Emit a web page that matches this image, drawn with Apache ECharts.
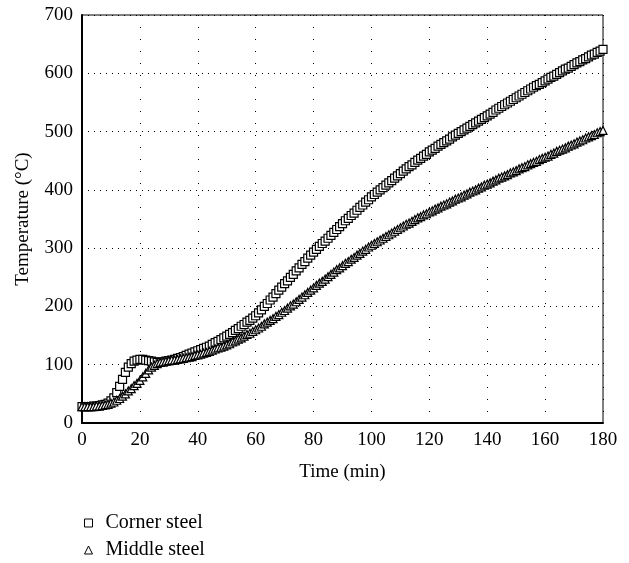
<!DOCTYPE html>
<html>
<head>
<meta charset="utf-8">
<script src="https://cdn.jsdelivr.net/npm/echarts@6/dist/echarts.min.js"></script>
<style>html,body{margin:0;padding:0;background:#fff}#c{width:629px;height:563px}</style>
</head>
<body>
<div id="c"></div>
<script>
var times = [0,1,2,3,4,5,6,7,8,9,10,11,12,13,14,15,16,17,18,19,20,21,22,23,24,25,26,27,28,29,30,
31,32,33,34,35,36,37,38,39,40,41,42,43,44,45,46,47,48,49,50,51,52,53,54,55,56,57,58,59,60,
61,62,63,64,65,66,67,68,69,70,71,72,73,74,75,76,77,78,79,80,
81,82,83,84,85,86,87,88,89,90,91,92,93,94,95,96,97,98,99,100,
101,102,103,104,105,106,107,108,109,110,111,112,113,114,115,116,117,118,119,120,
121,122,123,124,125,126,127,128,129,130,131,132,133,134,135,136,137,138,139,140,
141,142,143,144,145,146,147,148,149,150,151,152,153,154,155,156,157,158,159,160,
161,162,163,164,165,166,167,168,169,170,171,172,173,174,175,176,177,178,179,180];

var cornerSteel = [28,28,28,28,29,29,30,31,32,34,38,43,52,63,75,87,96,102,106,108,109,109,108,107,106,105,104,104,105,106,107,
108,109,111,112,114,116,118,120,122,124,126,128,130,132,135,138,140,143,146,149,152,155,159,162,166,169,173,176,180,184,
189,194,200,205,211,216,222,228,233,239,244,250,255,261,266,272,277,283,288,293,
298,303,308,312,317,322,327,332,337,342,347,351,356,360,365,370,374,379,383,388,
392,396,400,404,408,412,416,420,424,428,432,436,440,443,447,451,454,458,461,465,
468,471,475,478,481,484,487,491,494,497,500,503,506,509,512,515,518,521,524,527,
530,533,537,540,543,546,549,552,555,558,561,564,567,570,573,576,579,581,584,587,
590,593,595,598,601,604,607,609,612,615,618,620,623,625,628,631,633,636,638,641];

var middleSteel = [28,28,28,28,28,29,29,30,31,32,34,36,39,42,46,50,55,59,64,68,73,79,85,91,96,99,102,104,105,106,107,
108,108,109,110,111,112,113,114,116,117,118,120,121,123,125,127,129,130,132,134,136,139,141,144,146,149,152,154,157,160,
163,166,170,173,176,179,183,186,190,193,197,201,204,208,212,216,220,224,228,232,
236,240,243,247,251,255,259,263,266,270,274,277,281,284,288,291,295,298,302,305,
308,311,314,317,320,323,326,329,332,335,338,341,343,346,349,352,354,357,359,362,
364,367,369,372,374,376,379,381,384,386,388,391,393,396,398,400,403,405,408,410,
412,415,417,420,422,424,426,429,431,433,436,438,440,443,445,447,449,452,454,456,
458,461,463,466,468,470,472,475,477,479,482,484,486,489,491,493,495,498,500,502];

var xTicks = {min: 0, max: 180, interval: 20};
var yTicks = {min: 0, max: 700, interval: 100};
var seriesNames = ['Corner steel', 'Middle steel'];

function pairs(xs, ys) { return xs.map(function (x, i) { return [x, ys[i]]; }); }

var FONT = 'Liberation Serif';
var AXFS = 19;
var legendCommon = {
  orient: 'horizontal', left: 84, itemWidth: 8, itemHeight: 8, padding: 0,
  textStyle: {fontFamily: FONT, fontSize: 20, color: '#000', padding: [0, 0, 0, 8]}
};
var chart = echarts.init(document.getElementById('c'), null, {renderer: 'canvas'});
chart.setOption({
  animation: false,
  backgroundColor: '#fff',
  textStyle: {fontFamily: FONT, color: '#000'},
  grid: {left: 82, top: 15, width: 521, height: 408, show: true, borderColor: '#000', borderWidth: 1, backgroundColor: 'transparent'},
  legend: [
    Object.assign({}, legendCommon, {top: 513, data: [
      {name: seriesNames[0], icon: 'rect', itemStyle: {color: '#fff', borderColor: '#000', borderWidth: 1}}
    ]}),
    Object.assign({}, legendCommon, {top: 540, data: [
      {name: seriesNames[1], icon: 'triangle', itemStyle: {color: '#fff', borderColor: '#000', borderWidth: 1}}
    ]})
  ],
  xAxis: {
    type: 'value', min: xTicks.min, max: xTicks.max, interval: xTicks.interval,
    name: 'Time (min)', nameLocation: 'middle', nameGap: 40,
    nameTextStyle: {fontFamily: FONT, fontSize: AXFS, color: '#000'},
    axisLine: {show: true, onZero: false, lineStyle: {color: '#000', width: 2}},
    axisTick: {show: false},
    axisLabel: {fontFamily: FONT, fontSize: AXFS, color: '#000', margin: 8},
    splitLine: {show: true, lineStyle: {color: '#000', width: 1, type: [1, 11]}}
  },
  yAxis: {
    type: 'value', min: yTicks.min, max: yTicks.max, interval: yTicks.interval,
    name: 'Temperature (°C)', nameLocation: 'middle', nameGap: 49,
    nameTextStyle: {fontFamily: FONT, fontSize: AXFS, color: '#000'},
    axisLine: {show: true, onZero: false, lineStyle: {color: '#000', width: 2}},
    axisTick: {show: false},
    axisLabel: {fontFamily: FONT, fontSize: AXFS, color: '#000', margin: 9},
    splitLine: {show: true, lineStyle: {color: '#000', width: 1, type: [1, 5]}}
  },
  series: [
    {
      name: seriesNames[0], type: 'scatter', symbol: 'rect', symbolSize: 8,
      itemStyle: {color: '#fff', borderColor: '#000', borderWidth: 1.2, opacity: 1},
      data: pairs(times, cornerSteel), z: 2
    },
    {
      name: seriesNames[1], type: 'scatter', symbol: 'triangle', symbolSize: 8,
      itemStyle: {color: '#fff', borderColor: '#000', borderWidth: 1.2, opacity: 1},
      data: pairs(times, middleSteel), z: 3
    }
  ]
});
</script>
</body>
</html>
